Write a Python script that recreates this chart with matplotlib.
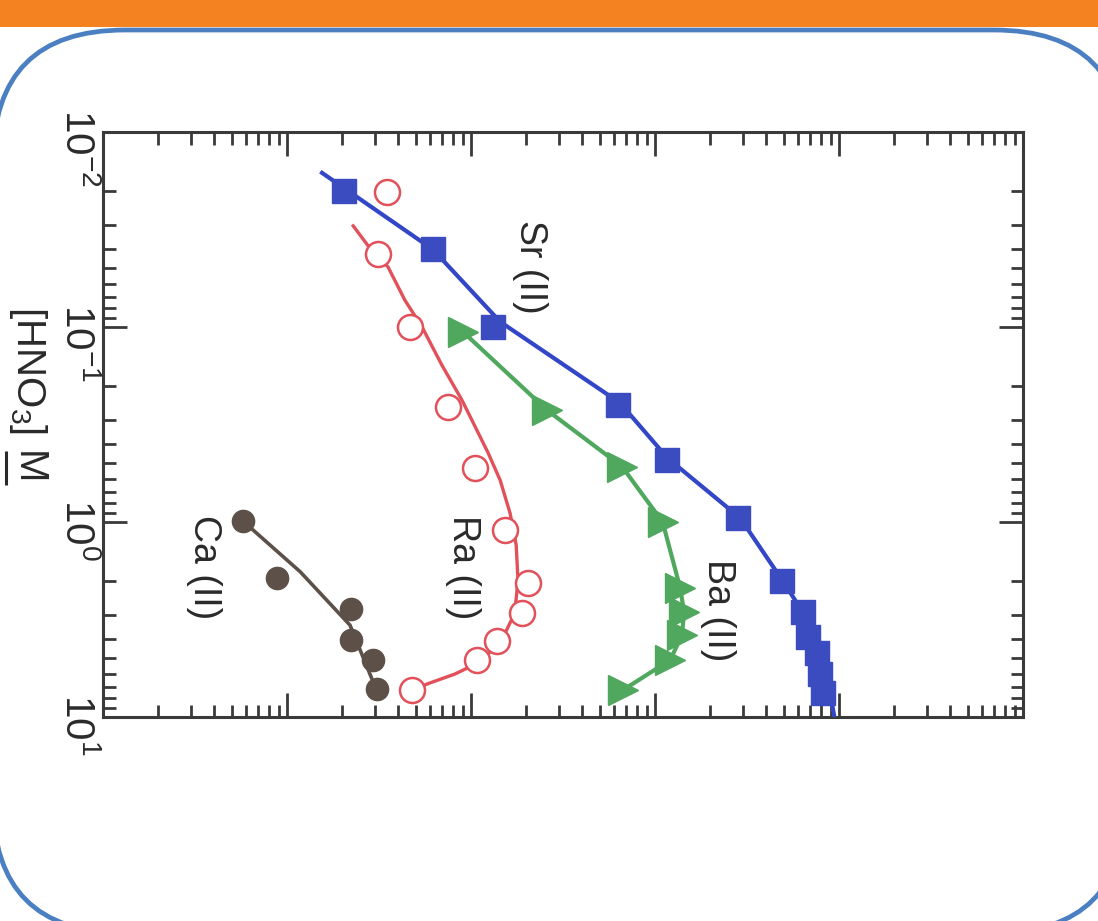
import matplotlib
matplotlib.use("Agg")
import matplotlib.pyplot as plt
from matplotlib.patches import FancyBboxPatch, Rectangle
from matplotlib.transforms import blended_transform_factory, ScaledTranslation
from matplotlib.ticker import LogLocator, NullFormatter

plt.rcParams['font.family'] = ['Liberation Sans', 'DejaVu Sans']
plt.rcParams['mathtext.fontset'] = 'custom'
plt.rcParams['mathtext.rm'] = 'Liberation Sans'
plt.rcParams['mathtext.it'] = 'Liberation Sans:italic'
plt.rcParams['mathtext.bf'] = 'Liberation Sans:bold'

# ---------------- data ----------------
# HNO3 concentration (M) and distribution ratio D
sr_hno3 = [0.02, 0.04, 0.1, 0.25, 0.48, 0.95, 2.0, 2.9, 3.9, 4.7, 6.0, 7.5]
sr_d = [0.0204, 0.0621, 0.132, 0.630, 1.16, 2.83, 4.90, 6.37, 6.79, 7.59, 7.88, 8.19]
sr_fit_hno3 = [0.0162, 0.04, 0.094, 0.245, 0.47, 0.953, 1.98, 2.99, 4.5, 7.3, 9.8]
sr_fit_d = [0.0155, 0.062, 0.144, 0.645, 1.17, 2.9, 4.9, 6.5, 7.9, 8.9, 9.4]

ba_hno3 = [0.106, 0.267, 0.52, 1.0, 2.18, 2.9, 3.8, 5.1, 7.27]
ba_d = [0.0906, 0.259, 0.662, 1.10, 1.37, 1.44, 1.40, 1.21, 0.67]

ra_hno3 = [0.0203, 0.042, 0.1, 0.257, 0.53, 1.1, 2.05, 2.93, 4.1, 5.1, 7.27]
ra_d = [0.0349, 0.0313, 0.0465, 0.075, 0.105, 0.153, 0.204, 0.189, 0.138, 0.108, 0.0477]
ra_fit_hno3 = [0.0303, 0.0394, 0.0492, 0.0728, 0.1, 0.157, 0.237, 0.443, 0.610,
               0.90, 1.31, 1.98, 2.93, 4.03, 5.22, 6.02, 6.69, 7.27]
ra_fit_d = [0.0229, 0.0282, 0.0354, 0.0437, 0.0542, 0.0695, 0.0893, 0.124, 0.144,
            0.163, 0.176, 0.180, 0.173, 0.147, 0.112, 0.0818, 0.0598, 0.0477]

ca_hno3 = [0.99, 1.94, 2.79, 4.03, 5.1, 7.18]
ca_d = [0.00577, 0.00883, 0.0223, 0.0223, 0.0293, 0.0308]
ca_fit_hno3 = [0.99, 1.80, 3.38, 7.2]
ca_fit_d = [0.00577, 0.0118, 0.022, 0.0305]

hno3_ticks = [0.01, 0.1, 1, 10]
hno3_ticklabels = [r'$\mathregular{10^{-2}}$', r'$\mathregular{10^{-1}}$',
                   r'$\mathregular{10^{0}}$', r'$\mathregular{10^{1}}$']

labels = ['Sr (II)', 'Ba (II)', 'Ra (II)', 'Ca (II)']
label_d = [0.209, 2.20, 0.0906, 0.00354]
label_hno3 = [0.0492, 2.82, 1.70, 1.70]

# ---------------- figure ----------------
W, H = 1098, 921
fig = plt.figure(figsize=(W / 100, H / 100), dpi=100)
fig.patch.set_facecolor('white')

# slide decoration (pixel coordinates)
bg = fig.add_axes([0, 0, 1, 1], zorder=0)
bg.set_xlim(0, W)
bg.set_ylim(H, 0)
bg.axis('off')
bg.add_patch(FancyBboxPatch((-7, 30), 1133, 903,
                            boxstyle="round,pad=0,rounding_size=132",
                            facecolor='white', edgecolor='#4a7fc1', linewidth=3.4))
bg.add_patch(Rectangle((0, 0), W, 27, facecolor='#f58220', edgecolor='none'))

# main plot (rotated layout: HNO3 runs downward, D runs rightward)
x0, y0, x1, y1 = 103, 132, 1023, 717
ax = fig.add_axes([x0 / W, 1 - y1 / H, (x1 - x0) / W, (y1 - y0) / H], zorder=2)
ax.patch.set_alpha(0)
ax.set_xscale('log')
ax.set_yscale('log')
ax.set_xlim(1e-3, 1e2)
ax.set_ylim(10, 0.01)

ink = '#3a3a3a'
for s in ax.spines.values():
    s.set_linewidth(2.2)
    s.set_color(ink)
ax.xaxis.set_major_locator(LogLocator(base=10, numticks=20))
ax.xaxis.set_minor_locator(LogLocator(base=10, subs=range(2, 10), numticks=20))
ax.yaxis.set_major_locator(LogLocator(base=10, numticks=20))
ax.yaxis.set_minor_locator(LogLocator(base=10, subs=range(2, 10), numticks=20))
ax.xaxis.set_minor_formatter(NullFormatter())
ax.yaxis.set_minor_formatter(NullFormatter())
ax.tick_params(which='both', direction='in', top=True, bottom=True, left=True, right=True,
               labelleft=False, labelbottom=False, colors=ink)
ax.tick_params(which='major', length=17, width=2.0)
ax.tick_params(which='minor', length=9, width=2.0)

sr_c, ba_c, ra_c, ca_c = '#3a4cc0', '#4fa85e', '#e2505a', '#5c5048'

ax.plot(sr_fit_d, sr_fit_hno3, color='#3346c8', lw=3.0, zorder=3)
ax.plot(sr_d, sr_hno3, 's', color=sr_c, ms=17, mec=sr_c, zorder=4)

ax.plot(ba_d, ba_hno3, '-', color=ba_c, lw=3.0, zorder=3)
ax.plot(ba_d, ba_hno3, '>', color=ba_c, ms=21, mec=ba_c, zorder=4)

ax.plot(ra_fit_d, ra_fit_hno3, color=ra_c, lw=2.4, zorder=3)
ax.plot(ra_d, ra_hno3, 'o', mfc='white', mec=ra_c, mew=1.8, ms=18, zorder=4)

ax.plot(ca_fit_d, ca_fit_hno3, color=ca_c, lw=2.6, zorder=3)
ax.plot(ca_d, ca_hno3, 'o', color=ca_c, ms=16, zorder=4)

for t, xd, yd in zip(labels, label_d, label_hno3):
    ax.text(xd, yd, t, rotation=-90, rotation_mode='anchor', ha='center', va='center',
            fontsize=27, color='#2a2a2a', zorder=5)

# HNO3 tick labels (rotated, left of the axis)
blend = blended_transform_factory(ax.transAxes, ax.transData)
for v, lab in zip(hno3_ticks, hno3_ticklabels):
    tr = blend + ScaledTranslation(0, 0.23, fig.dpi_scale_trans)
    ax.text(-0.028, v, lab, transform=tr, rotation=-90, rotation_mode='anchor',
            ha='left', va='center', fontsize=29, color='#2a2a2a', clip_on=False)

# axis title "[HNO3] M" (M underlined)
fig.text(28 / W, 1 - 370 / H, r'[HNO$_3$]', rotation=-90, rotation_mode='anchor',
         ha='center', va='center', fontsize=29, color='#2a2a2a')
mtxt = fig.text(28 / W, 1 - 468 / H, 'M', rotation=-90, rotation_mode='anchor',
                ha='center', va='center', fontsize=29, color='#2a2a2a')
fig.canvas.draw()
bb = mtxt.get_window_extent()
ux = bb.x0 - 3
bg.plot([ux, ux], [H - bb.y1, H - bb.y0], color='#2a2a2a', lw=2.2, solid_capstyle='butt')

fig.savefig('out.png', dpi=100, facecolor='white')
